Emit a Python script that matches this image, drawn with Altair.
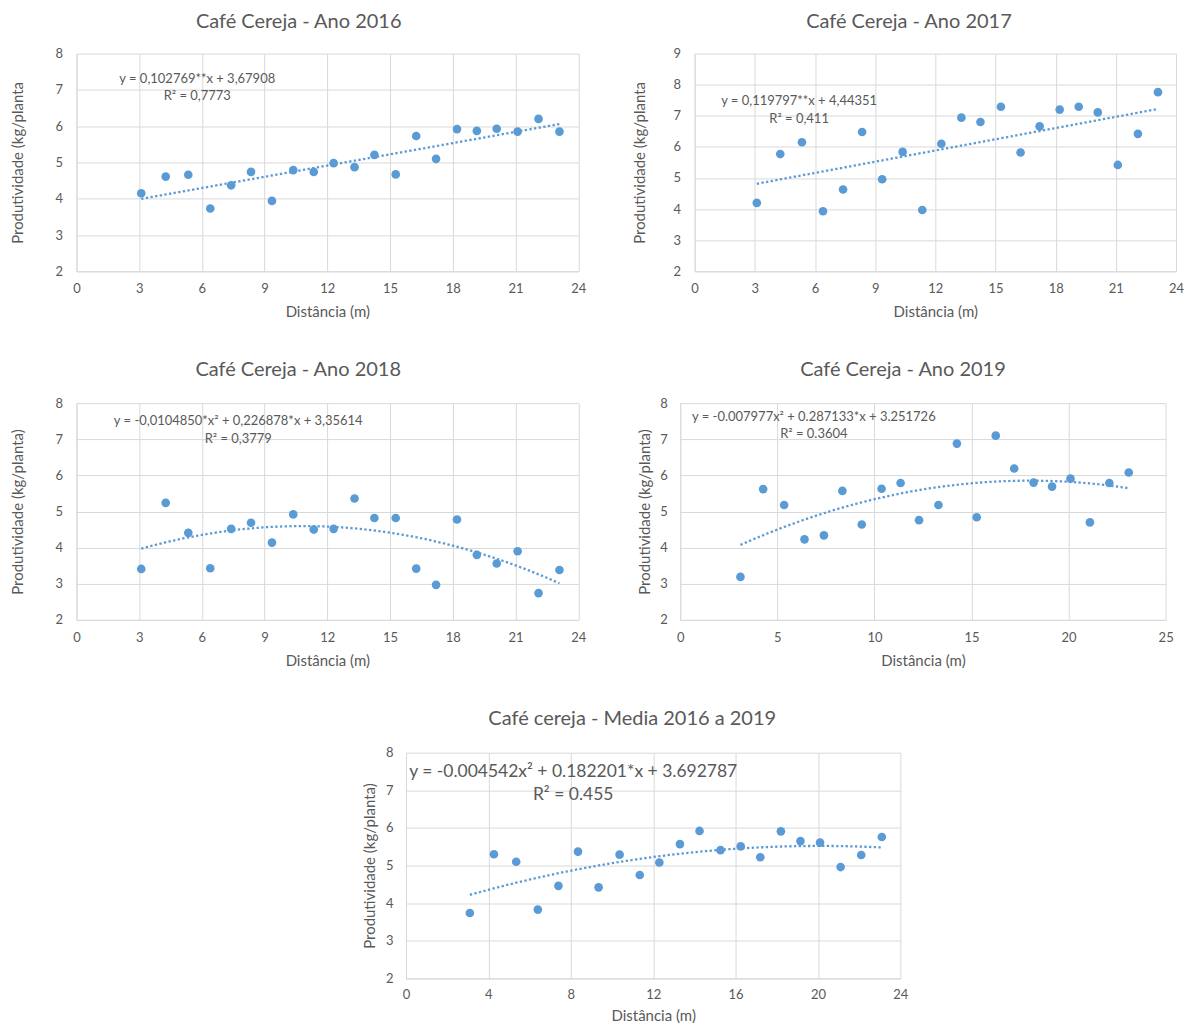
import altair as alt
import pandas as pd

# ---------------- data ----------------
dist = [3.1, 4.27, 5.35, 6.4, 7.4, 8.35, 9.35, 10.37, 11.35, 12.3, 13.3,
        14.25, 15.27, 16.25, 17.2, 18.2, 19.15, 20.1, 21.1, 22.1, 23.1]

prod_2016 = [4.15, 4.61, 4.66, 3.73, 4.37, 4.74, 3.94, 4.79, 4.74, 4.98, 4.87,
             5.21, 4.67, 5.73, 5.10, 5.92, 5.87, 5.93, 5.85, 6.20, 5.85]
prod_2017 = [4.20, 5.77, 6.15, 3.93, 4.63, 6.48, 4.96, 5.84, 3.97, 6.10, 6.94,
             6.80, 7.29, 5.82, 6.66, 7.20, 7.29, 7.11, 5.42, 6.42, 7.76]
prod_2018 = [3.41, 5.24, 4.41, 3.43, 4.52, 4.69, 4.14, 4.92, 4.50, 4.52, 5.36,
             4.82, 4.82, 3.42, 2.97, 4.78, 3.80, 3.56, 3.90, 2.74, 3.38]
prod_2019 = [3.19, 5.62, 5.18, 4.23, 4.34, 5.57, 4.64, 5.63, 5.79, 4.76, 5.18,
             6.88, 4.84, 7.10, 6.19, 5.80, 5.69, 5.91, 4.70, 5.79, 6.08]
prod_media = [3.74, 5.30, 5.10, 3.83, 4.46, 5.37, 4.42, 5.29, 4.75, 5.08, 5.57,
              5.92, 5.41, 5.51, 5.22, 5.91, 5.65, 5.61, 4.96, 5.28, 5.76]

titles = ["Café Cereja - Ano 2016", "Café Cereja - Ano 2017",
          "Café Cereja - Ano 2018", "Café Cereja - Ano 2019",
          "Café cereja - Media 2016 a 2019"]
x_title = "Distância (m)"
y_title_a = "Produtividade (kg/planta"
y_title_b = "Produtividade (kg/planta)"

equations = ["y = 0,102769**x + 3,67908",
             "y = 0,119797**x + 4,44351",
             "y = -0,0104850*x² + 0,226878*x + 3,35614",
             "y = -0.007977x² + 0.287133*x + 3.251726",
             "y = -0.004542x² + 0.182201*x + 3.692787"]
r2_labels = ["R² = 0,7773", "R² = 0,411", "R² = 0,3779", "R² = 0.3604", "R² = 0.455"]

x_ticks_3 = [0, 3, 6, 9, 12, 15, 18, 21, 24]
x_ticks_5 = [0, 5, 10, 15, 20, 25]
x_ticks_4 = [0, 4, 8, 12, 16, 20, 24]
y_ticks_8 = [2, 3, 4, 5, 6, 7, 8]
y_ticks_9 = [2, 3, 4, 5, 6, 7, 8, 9]

# ---------------- style ----------------
FONT = "Lato"
BLUE = "#5B9BD5"
GRID = "#D9D9D9"
TXT = "#595959"


def panel(values, title, ytitle, xticks, yticks, method, eq, r2,
          w, h, title_dx, title_offset, ytitle_pad, ylabel_pad,
          eq_x, eq_y, r2_y, eq_size, xlabel_pad=11.5, xtitle_pad=9):
    df = pd.DataFrame({"x": dist, "y": values})
    xaxis = alt.Axis(values=xticks, title=x_title, labelFlush=False,
                     labelOverlap=False, labelPadding=xlabel_pad, titlePadding=xtitle_pad)
    yaxis = alt.Axis(values=yticks, title=ytitle, labelPadding=ylabel_pad,
                     titlePadding=ytitle_pad, labelOverlap=False)
    xscale = alt.Scale(domain=[xticks[0], xticks[-1]], nice=False, zero=False)
    yscale = alt.Scale(domain=[yticks[0], yticks[-1]], nice=False, zero=False)
    base = alt.Chart(df)
    pts = base.mark_circle(size=75, color=BLUE, opacity=1).encode(
        x=alt.X("x:Q", scale=xscale, axis=xaxis),
        y=alt.Y("y:Q", scale=yscale, axis=yaxis))
    if method == "linear":
        reg = base.transform_regression("x", "y", method="linear")
    else:
        reg = base.transform_regression("x", "y", method="poly", order=2)
    trend = reg.mark_line(color=BLUE, strokeWidth=2.3, strokeDash=[2.3, 2.4],
                          strokeCap="butt").encode(
        x=alt.X("x:Q", scale=xscale, axis=xaxis),
        y=alt.Y("y:Q", scale=yscale, axis=yaxis))
    txt_df = pd.DataFrame({"t": [eq, r2], "row": [0, 1]})
    eq_txt = alt.Chart(txt_df).transform_filter("datum.row == 0").mark_text(
        font=FONT, fontSize=eq_size, color=TXT, align="center", baseline="alphabetic"
    ).encode(text="t:N", x=alt.value(eq_x), y=alt.value(eq_y))
    r2_txt = alt.Chart(txt_df).transform_filter("datum.row == 1").mark_text(
        font=FONT, fontSize=eq_size, color=TXT, align="center", baseline="alphabetic"
    ).encode(text="t:N", x=alt.value(eq_x), y=alt.value(r2_y))
    return alt.layer(pts, trend, eq_txt, r2_txt).properties(
        width=w, height=h,
        title=alt.TitleParams(text=title, font=FONT, fontSize=20, fontWeight="normal",
                              color=TXT, anchor="middle", dx=title_dx,
                              offset=title_offset, baseline="alphabetic"))


p1 = panel(prod_2016, titles[0], y_title_a, x_ticks_3, y_ticks_8, "linear",
           equations[0], r2_labels[0], 502.5, 218, -28.7, 0, 29.5, 14, 121, 29.3, 46.7, 13)
p2 = panel(prod_2017, titles[1], y_title_a, x_ticks_3, y_ticks_9, "linear",
           equations[1], r2_labels[1], 482, 218, -26.4, 0, 26, 14, 104.6, 51.5, 69, 13)
p3 = panel(prod_2018, titles[2], y_title_b, x_ticks_3, y_ticks_8, "poly",
           equations[2], r2_labels[2], 502.5, 217, -29.2, 1, 29.5, 14, 162, 22.2, 40.2, 13)
p4 = panel(prod_2019, titles[3], y_title_b, x_ticks_5, y_ticks_8, "poly",
           equations[3], r2_labels[3], 486, 217, -20, 1, 7, 13, 133.8, 18.2, 34.8, 13)
p5 = panel(prod_media, titles[4], y_title_b, x_ticks_4, y_ticks_8, "poly",
           equations[4], r2_labels[4], 495, 226, -21, 1.7, 8, 13, 167.4, 24.3, 46.9, 17.5,
           xlabel_pad=10.5, xtitle_pad=7)

spacer = alt.Chart(pd.DataFrame({"v": [0]})).mark_point(opacity=0).encode(
    x=alt.value(0), y=alt.value(0)).properties(width=5, height=5)

row1 = alt.hconcat(p1, p2, spacing=116, bounds="flush")
row2 = alt.hconcat(p3, p4, spacing=101.6, bounds="flush")
row3 = alt.hconcat(spacer, p5, spacing=325, bounds="flush")

chart = alt.vconcat(row1, row2, row3, spacing=40).properties(
    padding={"left": 1.5, "top": 3, "right": 0, "bottom": 0}
).configure_view(strokeWidth=0).configure_axis(
    grid=True, gridColor=GRID, gridWidth=1, domainColor=GRID, domainWidth=1,
    ticks=False, tickSize=0, labelFont=FONT, labelFontSize=13, labelColor=TXT,
    titleFont=FONT, titleFontSize=15, titleFontWeight="normal", titleColor=TXT
)

chart.save("out.html", embed_options={"renderer": "svg", "actions": False})
